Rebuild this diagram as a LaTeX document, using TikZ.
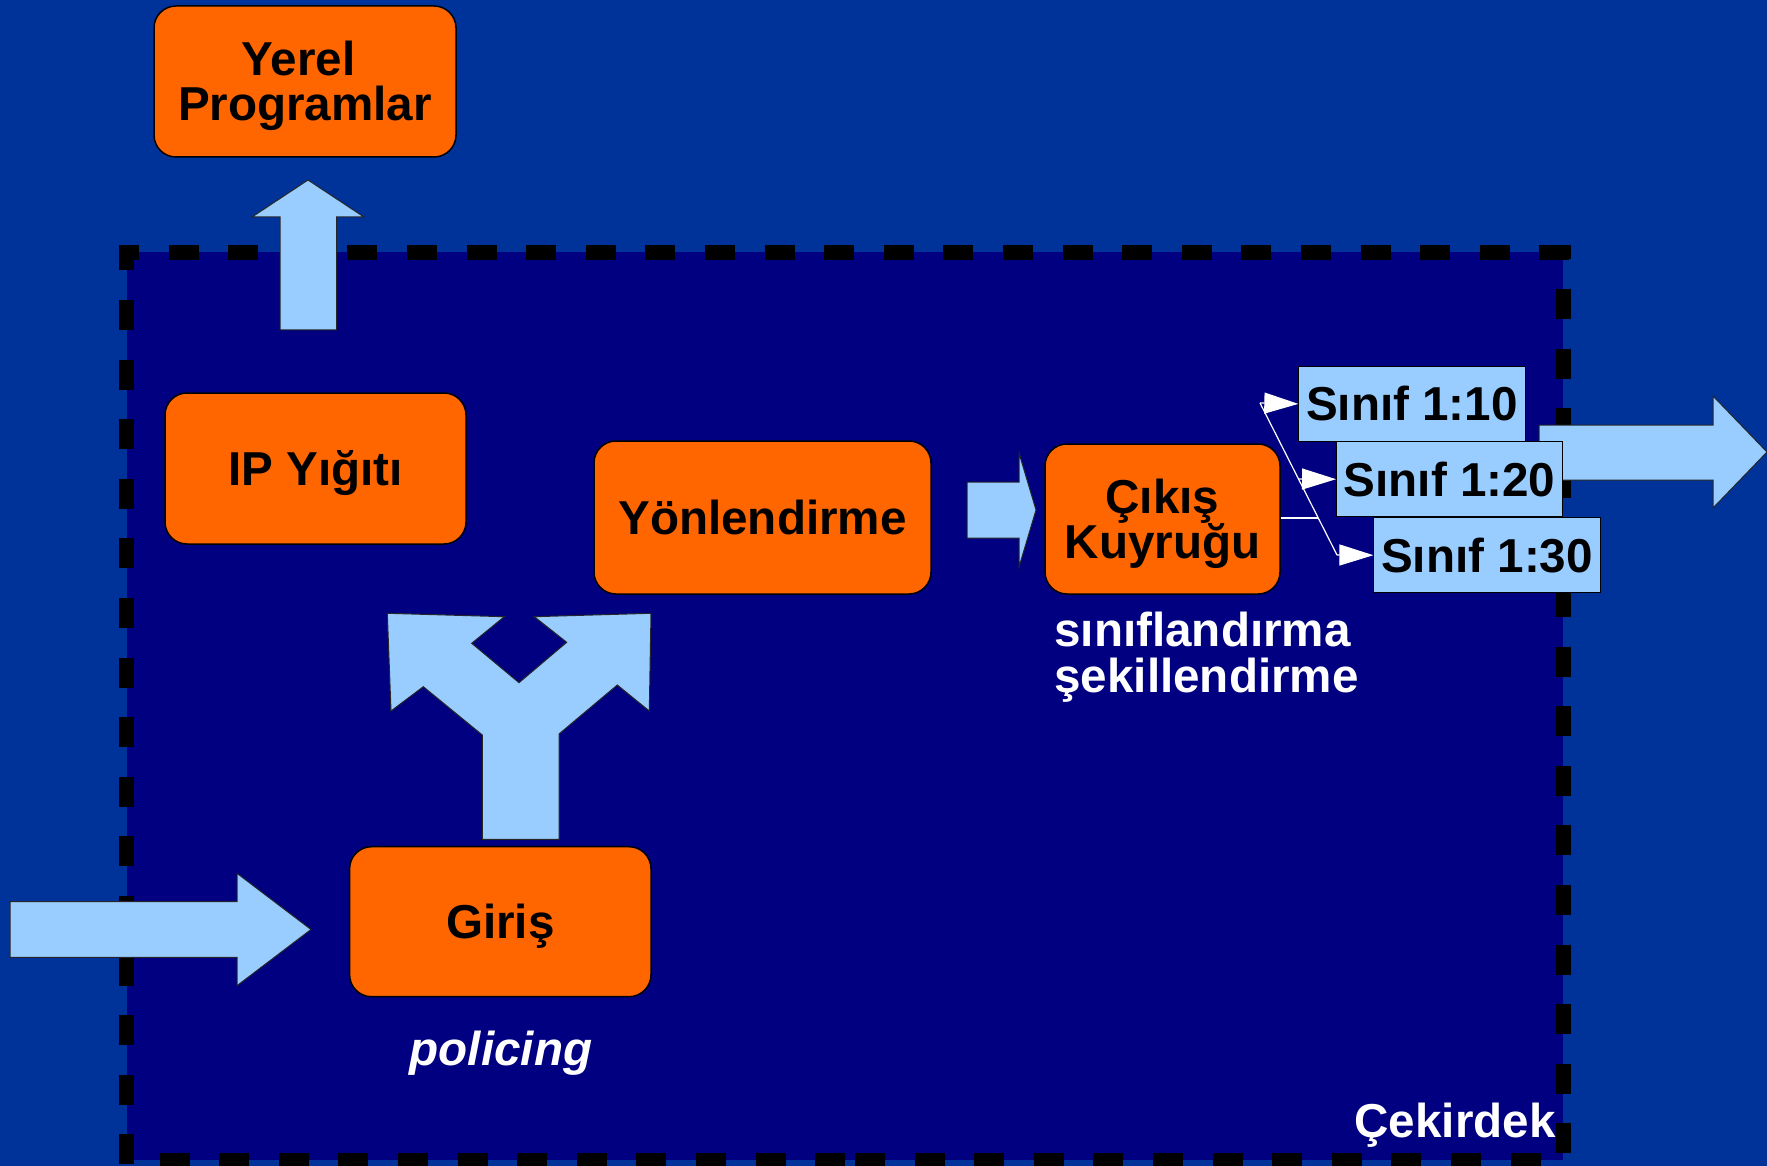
\documentclass[tikz,border=0pt]{standalone}
\usepackage{fontspec}
\setmainfont{Liberation Sans}
\usetikzlibrary{arrows.meta}
\definecolor{bgblue}{HTML}{003399}
\definecolor{kernel}{HTML}{000080}
\definecolor{stage}{HTML}{FF6600}
\definecolor{flow}{HTML}{99CCFF}
\newcommand{\boxfont}{\fontsize{23.8pt}{22.6pt}\selectfont\bfseries}
% raises the first line of a two-line label so that the block sits lower
\newcommand{\toprule}{\rule{0pt}{21.8pt}}

\begin{document}
\begin{tikzpicture}[x=0.5pt,y=-0.5pt,
  font=\boxfont,
  stagebox/.style={draw=black, line width=0.75pt, fill=stage,
    rounded corners=11pt, inner sep=0pt, align=center},
  oneline/.style={text height=17pt, text depth=0pt},
  classbox/.style={draw=black, line width=0.5pt, fill=flow, inner sep=0pt,
    text height=17pt, text depth=0pt, minimum width=113.1pt},
  flowarrow/.style={draw=black!85, line width=0.5pt, fill=flow},
  border/.style={line width=7.5pt, dash pattern=on 15pt off 14.8pt},
  feed/.style={white, line width=0.6pt},
  feedtip/.style={-{Triangle[width=10.5pt,length=17pt]}},
  note/.style={text=white, inner sep=0pt}
]
% canvas and kernel area
\useasboundingbox (0,0) rectangle (1767,1166);
\fill[bgblue] (0,0) rectangle (1767,1166);
\fill[kernel] (127,252) rectangle (1563,1160);

% dashed kernel boundary
\draw[border, dash phase=5pt]   (119,252.5) -- (1570,252.5);
\draw[border, dash phase=2.3pt] (126.5,245) -- (126.5,1170);
\draw[border, dash phase=7.8pt] (1563,245) -- (1563,1170);
\draw[border, dash phase=15pt]  (130,1160) -- (846,1160);
\draw[border]                   (855,1160) -- (1570,1160);

% packet flow arrows
\draw[flowarrow] (280,330) -- (280,217) -- (252,217) -- (308,180)
  -- (364,217) -- (336.5,217) -- (336.5,330) -- cycle;
\draw[flowarrow] (387.3,613.3) -- (504.3,616.7) -- (471.7,643.3) -- (519,682.7)
  -- (566.7,642.3) -- (534.3,616.7) -- (651,613.3) -- (649.3,711)
  -- (617.3,685) -- (559,734) -- (559,839.3) -- (482.3,839.3)
  -- (482.3,735) -- (423.3,686.7) -- (391,711) -- cycle;
\draw[flowarrow] (10,901.7) -- (237,901.7) -- (237,873.3) -- (311,929.5)
  -- (237,985.7) -- (237,957.3) -- (10,957.3) -- cycle;
\draw[flowarrow] (967,482) -- (1019,482) -- (1019,453) -- (1036,510)
  -- (1019,567) -- (1019,538) -- (967,538) -- cycle;
\draw[flowarrow] (1539,425) -- (1713,425) -- (1713,396) -- (1767,452)
  -- (1713,508) -- (1713,480) -- (1539,480) -- cycle;

% processing stages
\node[stagebox, minimum width=151pt, minimum height=75.5pt] (yerel) at (305,81.5)
  {\toprule Yerel\kern0.278em\\Programlar};
\node[stagebox, oneline, minimum width=150.5pt, minimum height=75.5pt] (ip) at (315.5,468.5)
  {IP Yığıtı};
\node[stagebox, oneline, minimum width=168.5pt, minimum height=76.5pt] (yon) at (762.5,517.5)
  {Yönlendirme};
\node[stagebox, minimum width=117.5pt, minimum height=75pt] (cikis) at (1162.5,519)
  {\toprule Çıkış\\Kuyruğu};
\node[stagebox, oneline, minimum width=150.7pt, minimum height=75pt] (giris) at (500.3,921.7)
  {Giriş};

% traffic classes
\node[classbox, minimum height=37.15pt] (s10) at (1411.9,403.9) {Sınıf 1:10};
\node[classbox, minimum height=37.5pt]  (s20) at (1449.6,479.2) {Sınıf 1:20};
\node[classbox, minimum height=37.5pt]  (s30) at (1487,555.2)   {Sınıf 1:30};

% classifier fan-out
\coordinate (join) at (1318,518);
\coordinate (d1) at (1260,403);
\coordinate (d2) at (1298.5,479);
\coordinate (d3) at (1337,555);
\draw[feed] (cikis.east |- join) -- (join);
\draw[feed] (d1) -- (d3);
\draw[feed, feedtip] (d1) -- (s10.west);
\draw[feed, feedtip] (d2) -- (s20.west);
\draw[feed, feedtip] (d3) -- (s30.west);

% annotations
\node[note, anchor=base, font=\boxfont\itshape] (pol) at (501,1065) {policing};
\node[note, anchor=north west, align=left] (cls) at (1054,612)
  {sınıflandırma\\şekillendirme};
\node[note, anchor=base east] (cek) at (1556,1137) {Çekirdek};
\end{tikzpicture}
\end{document}
